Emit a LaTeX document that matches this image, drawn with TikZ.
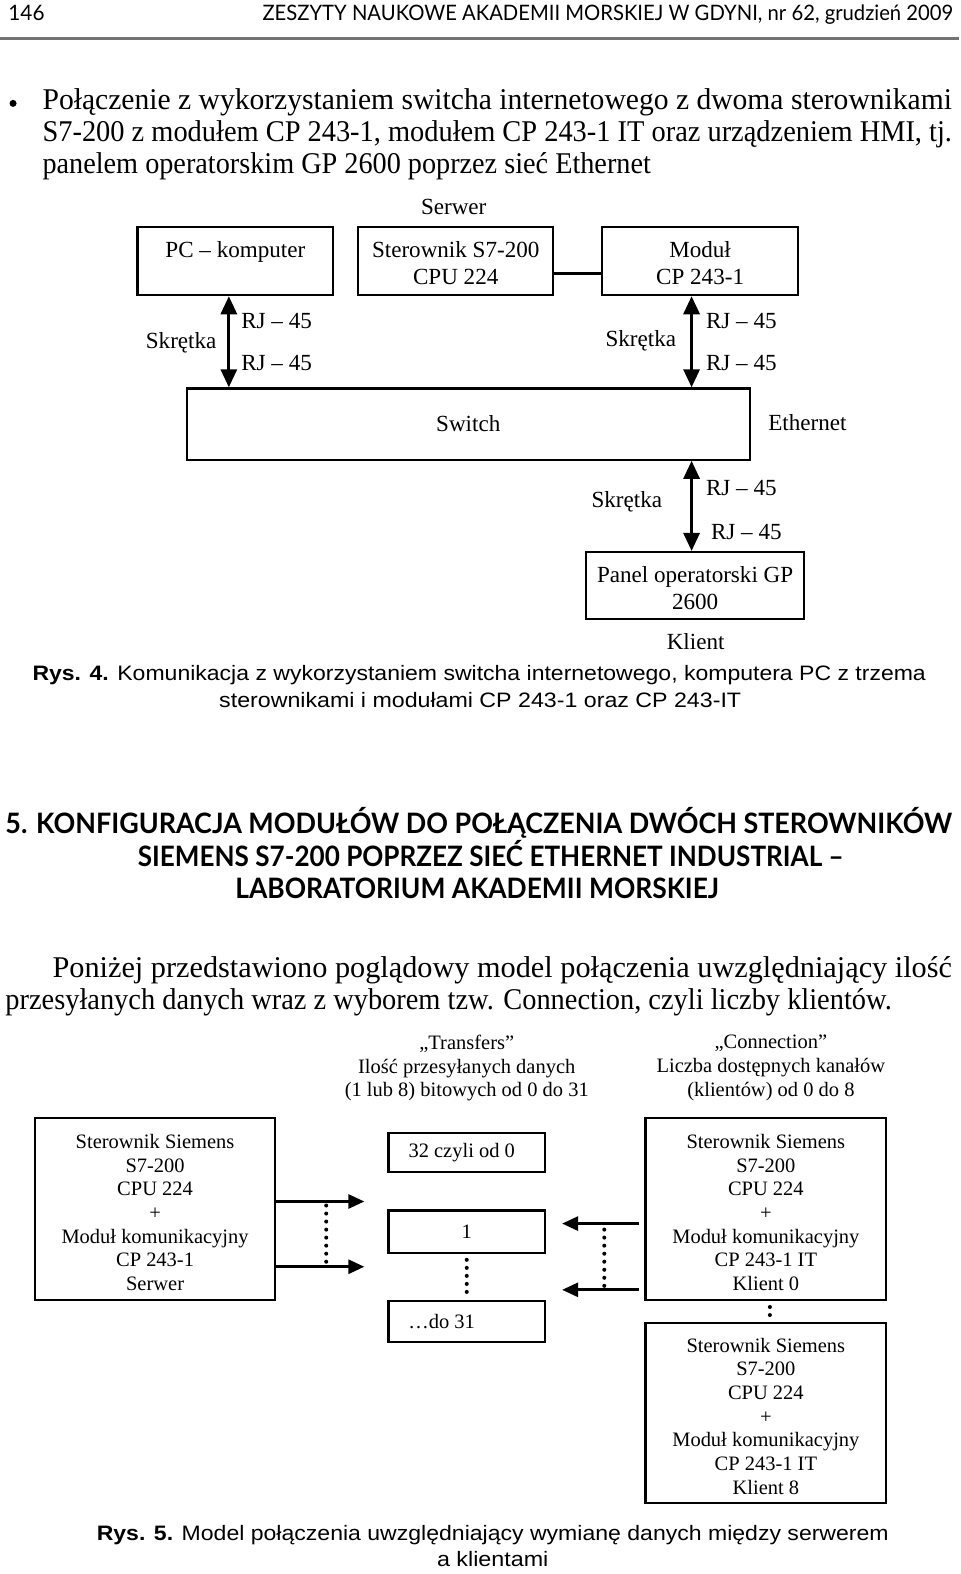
\documentclass[tikz,border=0pt]{standalone}
\usepackage{fontspec}
\setmainfont{Liberation Serif}
\newfontfamily\headfont{Lato}
\newfontfamily\capfont{Liberation Sans}
\usepackage{graphicx}
\usetikzlibrary{arrows.meta}

\newcommand{\fitw}[2]{\resizebox{#1}{\height}{#2}}
\newcommand{\toppad}[1]{\rule{0pt}{#1}}

\tikzset{
  boxa/.style={draw, line width=1.1pt, align=center, inner sep=0pt, font=\fontsize{11.5}{13.5}\selectfont},
  boxb/.style={draw, line width=1.1pt, align=center, inner sep=0pt, font=\fontsize{10.2}{11.8}\selectfont},
  lbla/.style={inner sep=0pt, font=\fontsize{11.5}{13.5}\selectfont},
  lblb/.style={inner sep=0pt, align=center, font=\fontsize{10.2}{11.9}\selectfont},
  bodytxt/.style={inner sep=0pt, anchor=base west, font=\fontsize{15}{16}\selectfont},
  headtxt/.style={inner sep=0pt, anchor=base west, font=\headfont\bfseries\fontsize{14}{15}\selectfont},
  captxt/.style={inner sep=0pt, anchor=base west, font=\capfont\fontsize{10.4}{11}\selectfont},
  dbl/.style={{Triangle[length=9pt,width=8pt]}-{Triangle[length=9pt,width=8pt]}, line width=1.5pt},
  arr/.style={-{Triangle[length=8pt,width=7pt]}, line width=1.4pt},
  dots/.style={line width=2pt, line cap=round, dash pattern=on 0pt off 4pt},
}

\begin{document}
\begin{tikzpicture}[x=0.5pt, y=-0.5pt]
\useasboundingbox (0,0) rectangle (956.41,1568.12);
\fill[white] (0,0) rectangle (956.41,1568.12);

% page header
\node[inner sep=0pt, anchor=base west, font=\headfont\fontsize{10.6}{12}\selectfont] (pagenr) at (8,20) {\fitw{18pt}{146}};
\node[inner sep=0pt, anchor=base east, font=\headfont\fontsize{10.6}{12}\selectfont] (journal) at (950,20) {\fitw{344pt}{ZESZYTY NAUKOWE AKADEMII MORSKIEJ W GDYNI, nr 62, grudzień 2009}};
\draw[line width=1.5pt, black!55] (0,38) -- (955,38);

% bullet paragraph
\fill (13,103) circle (3.5);
\node[bodytxt] (p1a) at (42,109) {\fitw{453pt}{Połączenie z wykorzystaniem switcha internetowego z dwoma sterownikami}};
\node[bodytxt] (p1b) at (42,141) {\fitw{453pt}{S7-200 z modułem CP 243-1, modułem CP 243-1 IT oraz urządzeniem HMI, tj.}};
\node[bodytxt] (p1c) at (42,173) {\fitw{303pt}{panelem operatorskim GP 2600 poprzez sieć Ethernet}};

% Rys. 4
\node[lbla, anchor=base] (serwer) at (452,214) {Serwer};
\node[boxa, minimum width=97.5pt, minimum height=34pt] (pc) at (234.5,260) {\toppad{10pt}PC – komputer\\ \phantom{X}};
\node[boxa, minimum width=97pt, minimum height=34pt] (ster) at (454,260) {\toppad{10pt}Sterownik S7-200\\CPU 224};
\node[boxa, minimum width=97.5pt, minimum height=34pt] (modul) at (697.5,260) {\toppad{10pt}Moduł\\CP 243-1};
\node[boxa, minimum width=280.5pt, minimum height=35.5pt] (sw) at (466.5,422.5) {Switch};
\node[boxa, minimum width=108.5pt, minimum height=33.5pt] (panel) at (692.5,583.5) {\toppad{10pt}Panel operatorski GP\\2600};
\node[lbla, anchor=base west] (eth) at (765,429) {Ethernet};
\node[lbla, anchor=base] (klient) at (693,647) {Klient};

\draw[line width=1.5pt] (ster.east |- 0,272) -- (modul.west |- 0,272);
\coordinate (c1) at (228,0);
\coordinate (c2) at (689,0);
\draw[dbl] (pc.south -| c1) -- (sw.north -| c1);
\draw[dbl] (modul.south -| c2) -- (sw.north -| c2);
\draw[dbl] (sw.south -| c2) -- (panel.north -| c2);

\node[lbla, anchor=base west] (rj1a) at (240,327) {RJ – 45};
\node[lbla, anchor=base west] (rj1b) at (240,369) {RJ – 45};
\node[lbla, anchor=base east] (skr1) at (216,347) {Skrętka};
\node[lbla, anchor=base west] (rj2a) at (703,327) {RJ – 45};
\node[lbla, anchor=base west] (rj2b) at (703,369) {RJ – 45};
\node[lbla, anchor=base east] (skr2) at (674,345) {Skrętka};
\node[lbla, anchor=base west] (rj3a) at (703,494) {RJ – 45};
\node[lbla, anchor=base west] (rj3b) at (708,537) {RJ – 45};
\node[lbla, anchor=base east] (skr3) at (660,506) {Skrętka};

\node[captxt] (cap4a) at (32,678) {\fitw{445pt}{\textbf{Rys. 4.} Komunikacja z wykorzystaniem switcha internetowego, komputera PC z trzema}};
\node[captxt] (cap4b) at (218,705) {\fitw{260pt}{sterownikami i modułami CP 243-1 oraz CP 243-IT}};

% section heading
\node[headtxt] (h1) at (5,830) {\fitw{471.5pt}{5. KONFIGURACJA MODUŁÓW DO POŁĄCZENIA DWÓCH STEROWNIKÓW}};
\node[headtxt] (h2) at (137,863) {\fitw{351.5pt}{SIEMENS S7-200 POPRZEZ SIEĆ ETHERNET INDUSTRIAL –}};
\node[headtxt] (h3) at (234,895) {\fitw{241pt}{LABORATORIUM AKADEMII MORSKIEJ}};

\node[bodytxt] (p2a) at (52,974) {\fitw{448pt}{Poniżej przedstawiono poglądowy model połączenia uwzględniający ilość}};
\node[bodytxt] (p2b) at (5,1006) {\fitw{441.5pt}{przesyłanych danych wraz z wyborem tzw. Connection, czyli liczby klientów.}};

% Rys. 5
\node[lblb] (transf) at (465,1064) {„Transfers”\\Ilość przesyłanych danych\\(1 lub 8) bitowych od 0 do 31};
\node[lblb] (conn) at (768,1064) {„Connection”\\Liczba dostępnych kanałów\\(klientów) od 0 do 8};

\node[boxb, minimum width=119.5pt, minimum height=90.5pt] (srv) at (154.5,1204.5) {\toppad{10.5pt}Sterownik Siemens\\S7-200\\CPU 224\\+\\Moduł komunikacyjny\\CP 243-1\\Serwer};
\node[boxb, minimum width=78pt, minimum height=19.5pt] (t0) at (465,1148.5) {\hspace{-5pt}32 czyli od 0};
\node[boxb, minimum width=78pt, minimum height=21pt] (t1) at (465,1227) {1};
\node[boxb, minimum width=78pt, minimum height=20.5pt] (t31) at (465,1316.5) {\hspace{-25pt}…do 31};
\node[boxb, minimum width=120pt, minimum height=90.5pt] (k0) at (763,1204.5) {\toppad{10.5pt}Sterownik Siemens\\S7-200\\CPU 224\\+\\Moduł komunikacyjny\\CP 243-1 IT\\Klient 0};
\node[boxb, minimum width=120pt, minimum height=89.5pt] (k8) at (763,1407.5) {\toppad{10.5pt}Sterownik Siemens\\S7-200\\CPU 224\\+\\Moduł komunikacyjny\\CP 243-1 IT\\Klient 8};

\coordinate (l1) at (363,1197);
\coordinate (l2) at (363,1262);
\draw[arr] (srv.east |- l1) -- (l1);
\draw[arr] (srv.east |- l2) -- (l2);
\draw[dots] (325,1201) -- (325,1257);
\coordinate (rs1) at (637,1219);
\coordinate (rs2) at (637,1285);
\draw[arr] (rs1) -- (560,1219);
\draw[arr] (rs2) -- (560,1285);
\draw[dots] (602,1225) -- (602,1282);
\draw[dots, shorten <=3pt, shorten >=2pt] (t1.south) -- (t31.north);
\coordinate (c3) at (767,0);
\draw[dots, shorten <=3pt, shorten >=3pt] (k0.south -| c3) -- (k8.north -| c3);

\node[captxt] (cap5a) at (96,1535) {\fitw{394.5pt}{\textbf{Rys. 5.} Model połączenia uwzględniający wymianę danych między serwerem}};
\node[captxt] (cap5b) at (435,1561) {\fitw{55.5pt}{a klientami}};
\end{tikzpicture}
\end{document}
